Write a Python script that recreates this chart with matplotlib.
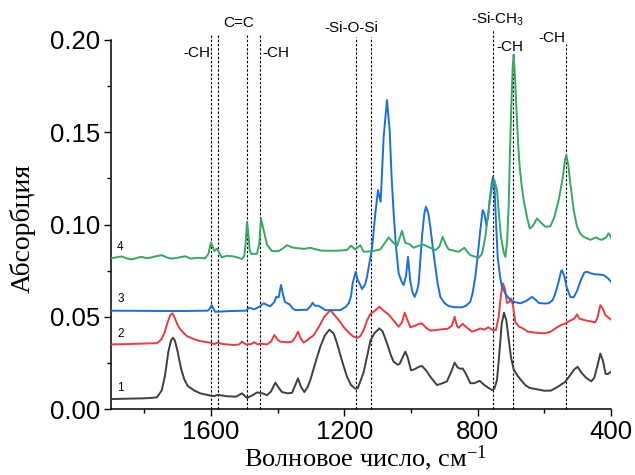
import matplotlib
matplotlib.use('Agg')
import matplotlib.pyplot as plt
from matplotlib.ticker import MultipleLocator, FormatStrFormatter

# wavenumber (cm-1) / absorbance
x1 = [1900, 1850, 1800, 1773, 1762, 1748, 1738, 1728, 1720, 1714, 1708, 1700, 1690, 1680, 1670, 1650, 1632,
      1600, 1590, 1580, 1570, 1552, 1525, 1507, 1492, 1475, 1462, 1445, 1432, 1420, 1407, 1395, 1387, 1370,
      1357, 1347, 1339, 1330, 1320, 1310, 1302, 1287, 1272, 1258, 1245, 1232, 1222, 1205, 1192, 1180, 1167,
      1160, 1150, 1142, 1130, 1122, 1110, 1095, 1085, 1072, 1060, 1052, 1040, 1034, 1025, 1017, 1010, 1000,
      990, 975, 967, 955, 940, 922, 905, 892, 880, 869, 860, 852, 845, 835, 822, 810, 794, 780, 768, 757,
      750, 742, 735, 728, 721, 714, 707, 700, 692, 680, 667, 657, 645, 637, 625, 600, 580, 560, 537, 520,
      510, 500, 490, 475, 459, 450, 440, 432, 424, 416, 409, 400]
y1 = [0.0054, 0.0056, 0.0058, 0.0061, 0.0064, 0.0100, 0.0180, 0.0310, 0.0372, 0.0386, 0.0370, 0.0310,
      0.0220, 0.0160, 0.0125, 0.0100, 0.0085, 0.0072, 0.0070, 0.0077, 0.0074, 0.0069, 0.0067, 0.0085,
      0.0060, 0.0075, 0.0090, 0.0085, 0.0075, 0.0095, 0.0143, 0.0110, 0.0092, 0.0085, 0.0088, 0.0130,
      0.0166, 0.0120, 0.0092, 0.0120, 0.0157, 0.0250, 0.0338, 0.0400, 0.0430, 0.0410, 0.0356, 0.0250,
      0.0175, 0.0130, 0.0110, 0.0112, 0.0160, 0.0200, 0.0300, 0.0370, 0.0410, 0.0437, 0.0420, 0.0356,
      0.0290, 0.0256, 0.0240, 0.0245, 0.0280, 0.0311, 0.0280, 0.0210, 0.0215, 0.0230, 0.0233, 0.0210,
      0.0170, 0.0130, 0.0140, 0.0150, 0.0200, 0.0251, 0.0225, 0.0218, 0.0220, 0.0190, 0.0140, 0.0140,
      0.0153, 0.0130, 0.0115, 0.0103, 0.0110, 0.0157, 0.0300, 0.0460, 0.0522, 0.0480, 0.0380, 0.0280,
      0.0215, 0.0180, 0.0150, 0.0130, 0.0115, 0.0112, 0.0108, 0.0099, 0.0100, 0.0120, 0.0148, 0.0190,
      0.0215, 0.0229, 0.0200, 0.0170, 0.0150, 0.0170, 0.0240, 0.0300, 0.0260, 0.0190, 0.0190, 0.0202]

x2 = [1900, 1850, 1800, 1762, 1750, 1740, 1730, 1722, 1715, 1708, 1700, 1692, 1680, 1672, 1650, 1632, 1600,
      1590, 1580, 1565, 1532, 1515, 1507, 1495, 1480, 1470, 1460, 1452, 1432, 1420, 1410, 1400, 1392, 1370,
      1357, 1347, 1339, 1330, 1322, 1310, 1292, 1275, 1260, 1242, 1230, 1217, 1200, 1187, 1175, 1162, 1152,
      1142, 1132, 1122, 1110, 1095, 1080, 1067, 1050, 1037, 1027, 1019, 1010, 1002, 990, 975, 967, 955, 942,
      925, 907, 890, 878, 869, 862, 857, 845, 835, 817, 800, 792, 780, 768, 757, 745, 737, 730, 724, 718,
      712, 705, 700, 694, 687, 675, 667, 650, 632, 600, 580, 567, 550, 537, 527, 510, 502, 495, 480, 457,
      447, 440, 432, 425, 417, 400]
y2 = [0.0350, 0.0352, 0.0355, 0.0357, 0.0375, 0.0410, 0.0470, 0.0510, 0.0518, 0.0490, 0.0455, 0.0432,
      0.0408, 0.0395, 0.0378, 0.0368, 0.0359, 0.0352, 0.0360, 0.0352, 0.0347, 0.0350, 0.0365, 0.0350,
      0.0352, 0.0362, 0.0350, 0.0355, 0.0350, 0.0365, 0.0401, 0.0375, 0.0365, 0.0362, 0.0365, 0.0390,
      0.0419, 0.0380, 0.0360, 0.0375, 0.0400, 0.0450, 0.0500, 0.0536, 0.0510, 0.0482, 0.0440, 0.0415,
      0.0395, 0.0385, 0.0395, 0.0428, 0.0480, 0.0515, 0.0530, 0.0554, 0.0530, 0.0512, 0.0475, 0.0446,
      0.0470, 0.0522, 0.0480, 0.0443, 0.0450, 0.0462, 0.0464, 0.0440, 0.0425, 0.0428, 0.0432, 0.0435,
      0.0450, 0.0500, 0.0450, 0.0440, 0.0462, 0.0445, 0.0419, 0.0430, 0.0437, 0.0430, 0.0443, 0.0430,
      0.0428, 0.0500, 0.0620, 0.0681, 0.0650, 0.0575, 0.0580, 0.0599, 0.0560, 0.0470, 0.0445, 0.0440,
      0.0420, 0.0415, 0.0410, 0.0420, 0.0437, 0.0455, 0.0464, 0.0475, 0.0490, 0.0513, 0.0490, 0.0482,
      0.0473, 0.0470, 0.0500, 0.0563, 0.0545, 0.0509, 0.0485]

x3 = [1900, 1800, 1700, 1610, 1603, 1598, 1593, 1588, 1542, 1495, 1485, 1478, 1470, 1455, 1442, 1430, 1422,
      1410, 1404, 1397, 1390, 1384, 1378, 1364, 1355, 1347, 1312, 1300, 1295, 1288, 1280, 1274, 1257, 1212,
      1195, 1187, 1180, 1175, 1166, 1160, 1152, 1147, 1137, 1132, 1117, 1107, 1099, 1091, 1082, 1072, 1064,
      1058, 1052, 1045, 1037, 1028, 1022, 1015, 1009, 1002, 995, 989, 982, 977, 967, 960, 955, 948, 942, 935,
      927, 920, 912, 900, 887, 870, 847, 835, 822, 815, 807, 800, 792, 785, 780, 774, 768, 764, 758, 754, 750,
      747, 740, 733, 727, 715, 702, 690, 672, 655, 637, 625, 617, 600, 587, 575, 567, 557, 550, 547, 540, 533,
      522, 512, 502, 490, 480, 472, 460, 447, 432, 422, 410, 400]
y3 = [0.0533, 0.0532, 0.0531, 0.0533, 0.0545, 0.0563, 0.0545, 0.0527, 0.0531, 0.0533, 0.0550, 0.0545,
      0.0540, 0.0555, 0.0573, 0.0562, 0.0557, 0.0580, 0.0608, 0.0605, 0.0672, 0.0620, 0.0580, 0.0567,
      0.0545, 0.0536, 0.0538, 0.0560, 0.0576, 0.0560, 0.0560, 0.0556, 0.0536, 0.0536, 0.0555, 0.0573,
      0.0610, 0.0681, 0.0744, 0.0700, 0.0672, 0.0650, 0.0678, 0.0717, 0.0870, 0.1060, 0.1186, 0.1123,
      0.1475, 0.1674, 0.1511, 0.1250, 0.1060, 0.0880, 0.0735, 0.0690, 0.0672, 0.0720, 0.0825, 0.0690,
      0.0630, 0.0608, 0.0640, 0.0681, 0.0933, 0.1060, 0.1096, 0.1060, 0.0988, 0.0880, 0.0771, 0.0680,
      0.0608, 0.0575, 0.0558, 0.0552, 0.0551, 0.0560, 0.0581, 0.0630, 0.0717, 0.0830, 0.0970, 0.1078,
      0.1060, 0.0997, 0.1050, 0.1132, 0.1220, 0.1258, 0.1220, 0.1096, 0.0825, 0.0720, 0.0662, 0.0620,
      0.0590, 0.0580, 0.0573, 0.0585, 0.0608, 0.0590, 0.0575, 0.0572, 0.0573, 0.0590, 0.0627, 0.0690,
      0.0745, 0.0753, 0.0720, 0.0660, 0.0608, 0.0605, 0.0640, 0.0700, 0.0740, 0.0744, 0.0735, 0.0730,
      0.0728, 0.0726, 0.0710, 0.0690]

x4 = [1900, 1885, 1868, 1850, 1838, 1820, 1808, 1795, 1783, 1765, 1748, 1730, 1718, 1700, 1678, 1660, 1640,
      1618, 1608, 1600, 1594, 1590, 1582, 1575, 1568, 1553, 1535, 1518, 1507, 1500, 1495, 1492, 1488, 1484,
      1479, 1462, 1455, 1450, 1442, 1432, 1417, 1397, 1385, 1372, 1355, 1342, 1320, 1302, 1285, 1267, 1240,
      1222, 1192, 1180, 1172, 1167, 1152, 1142, 1117, 1092, 1067, 1055, 1042, 1027, 1017, 1005, 992, 977,
      962, 950, 927, 915, 905, 895, 887, 857, 840, 830, 822, 797, 787, 777, 770, 762, 755, 750, 742, 736,
      730, 722, 717, 712, 707, 703, 699, 695, 692, 688, 684, 679, 674, 668, 662, 652, 644, 635, 622, 610,
      597, 582, 570, 557, 545, 538, 534, 528, 522, 512, 502, 492, 482, 462, 452, 444, 435, 427, 415, 407, 400]
y4 = [0.0816, 0.0822, 0.0827, 0.0815, 0.0811, 0.0820, 0.0825, 0.0818, 0.0820, 0.0828, 0.0834, 0.0820,
      0.0815, 0.0820, 0.0828, 0.0815, 0.0820, 0.0816, 0.0840, 0.0902, 0.0875, 0.0856, 0.0870, 0.0845,
      0.0822, 0.0830, 0.0828, 0.0820, 0.0813, 0.0830, 0.0920, 0.1015, 0.0950, 0.0860, 0.0840, 0.0842,
      0.0900, 0.1033, 0.0970, 0.0890, 0.0856, 0.0856, 0.0870, 0.0888, 0.0875, 0.0872, 0.0868, 0.0874,
      0.0865, 0.0858, 0.0858, 0.0858, 0.0862, 0.0885, 0.0872, 0.0865, 0.0888, 0.0852, 0.0855, 0.0865,
      0.0930, 0.0905, 0.0883, 0.0966, 0.0900, 0.0894, 0.0874, 0.0885, 0.0891, 0.0880, 0.0861, 0.0880,
      0.0933, 0.0890, 0.0865, 0.0852, 0.0874, 0.0850, 0.0834, 0.0820, 0.0840, 0.0933, 0.1040, 0.1151,
      0.1220, 0.1241, 0.1186, 0.1050, 0.0933, 0.0850, 0.0825, 0.0900, 0.1096, 0.1400, 0.1638, 0.1850,
      0.1920, 0.1800, 0.1638, 0.1450, 0.1313, 0.1210, 0.1132, 0.1040, 0.0979, 0.0990, 0.1033, 0.1010,
      0.0988, 0.0990, 0.1040, 0.1132, 0.1250, 0.1350, 0.1376, 0.1320, 0.1223, 0.1080, 0.0988, 0.0950,
      0.0933, 0.0917, 0.0925, 0.0930, 0.0920, 0.0917, 0.0930, 0.0952, 0.0930]

# band markers: position, top of dashed line
band_pos = [1600, 1580, 1492, 1452, 1165, 1120, 754, 693, 535]
band_top = [0.2027, 0.2027, 0.2027, 0.2027, 0.2018, 0.2018, 0.2054, 0.1919, 0.198]

# band labels: text, x, y, ha
band_txt = ['-CH', 'C=C', '-CH', '-Si-O-Si', r'-Si-CH$\mathregular{_3}$', '-CH', '-CH']
band_tx = [1603, 1518, 1445, 1178, 741, 744, 576]
band_ty = [0.193, 0.209, 0.193, 0.2067, 0.211, 0.196, 0.201]
band_ha = ['right', 'center', 'left', 'center', 'center', 'left', 'center']

curve_num = ['1', '2', '3', '4']
num_y = [0.0116, 0.0406, 0.0596, 0.088]

fig = plt.figure(figsize=(6.35, 4.75), dpi=100)
ax = fig.add_axes([0.1748, 0.1389, 0.7874, 0.7769])

ax.plot(x1, y1, color='#3f3f3f', lw=1.4, zorder=3)
ax.plot(x2, y2, color='#ec3b3e', lw=1.4, zorder=3)
ax.plot(x3, y3, color='#1b6ee0', lw=1.4, zorder=3)
ax.plot(x4, y4, color='#35a862', lw=1.4, zorder=3)

ax.vlines(band_pos, 0, band_top, colors='black', linestyles=(0, (2.2, 1.6)), lw=0.8,
          clip_on=False, zorder=2)
for t, tx, ty, ha in zip(band_txt, band_tx, band_ty, band_ha):
    ax.text(tx, ty, t, ha=ha, va='center', fontsize=11, family='Liberation Sans')

for n, ny in zip(curve_num, num_y):
    ax.text(1872, ny, n, ha='center', va='center', fontsize=8.5, family='Liberation Sans')

ax.set_xlim(1900, 400)
ax.set_ylim(0, 0.2)
ax.xaxis.set_major_locator(MultipleLocator(400))
ax.xaxis.set_minor_locator(MultipleLocator(200))
ax.yaxis.set_major_locator(MultipleLocator(0.05))
ax.yaxis.set_minor_locator(MultipleLocator(0.025))
ax.yaxis.set_major_formatter(FormatStrFormatter('%.2f'))

ax.spines['top'].set_visible(False)
ax.spines['right'].set_visible(False)
ax.spines['left'].set_linewidth(1.1)
ax.spines['bottom'].set_linewidth(1.1)
ax.tick_params(which='major', direction='out', length=5, width=1.0, labelsize=18.5, pad=3)
ax.tick_params(which='minor', direction='out', length=2.8, width=1.0)
for lab in ax.get_xticklabels() + ax.get_yticklabels():
    lab.set_family('Liberation Sans')

ax.set_xlabel(r'Волновое число, см$\mathregular{^{-1}}$', fontsize=19, family='Liberation Serif')
ax.set_ylabel('Абсорбция', fontsize=20, family='Liberation Serif')
ax.xaxis.set_label_coords(0.51, -0.093)
ax.yaxis.set_label_coords(-0.15, 0.49)

fig.savefig('out.png', dpi=100)
